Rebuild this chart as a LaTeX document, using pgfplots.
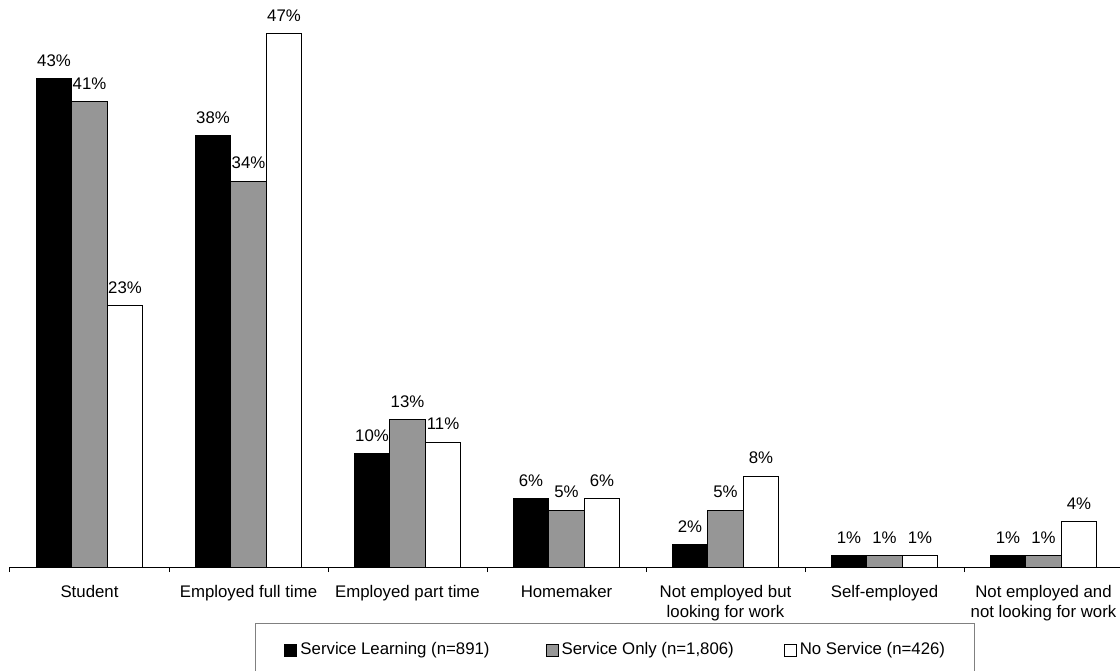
\documentclass[border=0pt]{standalone}
\usepackage{pgfplots}
\pgfplotsset{compat=1.18}
\usepackage{fontspec}
\setmainfont{Liberation Sans}
\definecolor{sgray}{RGB}{150,150,150}
\definecolor{lgbord}{RGB}{128,128,128}
\newcommand{\cf}{\fontsize{8.4pt}{10pt}\selectfont}
\begin{document}
\begin{tikzpicture}[font=\cf]
\begin{axis}[name=ax, scale only axis, width=556.5pt, height=283.75pt,
  /pgf/number format/assume math mode=true,
  ymin=0, ymax=50, xmin=-0.5, xmax=6.5,
  ybar=0pt, bar width=17.75pt,
  hide y axis, axis x line*=bottom,
  axis line style={black, line width=0.5pt},
  xtick={0,...,6},
  xticklabels={Student, Employed full time, Employed part time, Homemaker, {Not employed but\\looking for work}, Self-employed, {Not employed and\\not looking for work}},
  major tick length=0pt,
  minor xtick={-0.5,0.5,...,6.5}, minor tick length=2.5pt, tick align=outside,
  minor tick style={black, line width=0.5pt},
  xticklabel style={align=center, font=\cf, yshift=-5.7pt},
  nodes near coords={\pgfmathprintnumber{\pgfplotspointmeta}\%},
  every node near coord/.append style={font=\cf, yshift=2.5pt, black},
  clip=false,
  legend columns=3,
  legend style={at={(0.2201,-0.0987)}, anchor=north west, draw=lgbord, line width=0.5pt,
    font=\cf, inner xsep=14.5pt, inner ysep=9.5pt,
    nodes={inner sep=0pt, anchor=west},
    /tikz/column 1/.style={column sep=1.5pt},
    /tikz/column 2/.style={column sep=28pt},
    /tikz/column 3/.style={column sep=1.5pt},
    /tikz/column 4/.style={column sep=25pt},
    /tikz/column 5/.style={column sep=1.5pt}},
  legend image code/.code={\draw[#1, line width=0.5pt] (0pt,-3pt) rectangle (6pt,3pt);},
]
\addplot[fill=black, draw=black, line width=0.5pt] coordinates {(0,43)(1,38)(2,10)(3,6)(4,2)(5,1)(6,1)};
\addlegendentry{Service Learning (n=891)}
\addplot[fill=sgray, draw=black, line width=0.5pt] coordinates {(0,41)(1,34)(2,13)(3,5)(4,5)(5,1)(6,1)};
\addlegendentry{Service Only (n=1,806)}
\addplot[fill=white, draw=black, line width=0.5pt] coordinates {(0,23)(1,47)(2,11)(3,6)(4,8)(5,1)(6,4)};
\addlegendentry{No Service (n=426)}
\end{axis}
\pgfresetboundingbox
\path ([xshift=-5pt,yshift=-51.5pt]ax.south west) rectangle ([xshift=555pt,yshift=283.5pt]ax.south west);
\end{tikzpicture}
\end{document}
